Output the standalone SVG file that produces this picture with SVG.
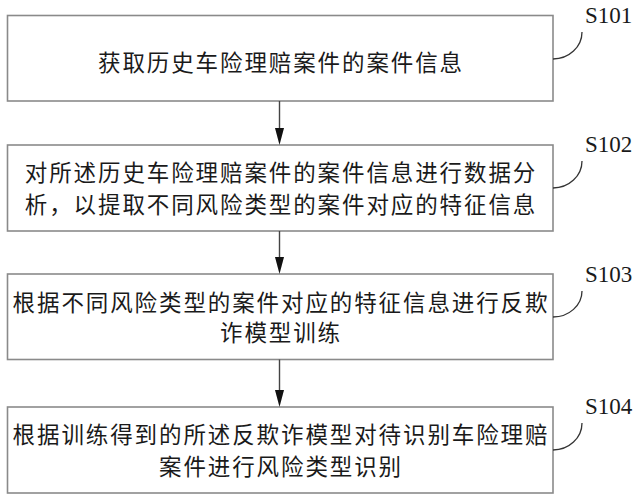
<svg xmlns="http://www.w3.org/2000/svg" width="641" height="500" viewBox="0 0 641 500">
<style>
.box{fill:#fff;stroke:#8a8a8a;stroke-width:1.6}
.t{font-family:"Noto Sans CJK SC","Noto Sans",sans-serif;font-size:22.5px;letter-spacing:1.9px;fill:#1a1a1a;text-anchor:middle}
.lbl{font-family:"Liberation Serif","Noto Sans CJK SC",serif;font-size:23px;fill:#1a1a1a}
.lead{fill:none;stroke:#333;stroke-width:1.3}
.conn line{stroke:#444;stroke-width:1.4}
.conn polygon{fill:#111}
</style>
<rect width="641" height="500" fill="#fff"/>
<g id="s101">
<rect class="box" x="7.5" y="15.5" width="545.5" height="85.5"/>
<text class="t" x="281" y="71">获取历史车险理赔案件的案件信息</text>
<text class="lbl" x="585" y="23">S101</text>
<path class="lead" d="M553,59 A29,27 0 0 0 582,32"/>
</g>
<g id="s102">
<rect class="box" x="7.5" y="145" width="545.5" height="86"/>
<text class="t" x="281" y="181">对所述历史车险理赔案件的案件信息进行数据分</text>
<text class="t" x="281" y="212.5">析，以提取不同风险类型的案件对应的特征信息</text>
<text class="lbl" x="585" y="152">S102</text>
<path class="lead" d="M553,188 A29,27 0 0 0 582,161"/>
</g>
<g id="s103">
<rect class="box" x="7.5" y="274" width="545.5" height="85.5"/>
<text class="t" x="281" y="311">根据不同风险类型的案件对应的特征信息进行反欺</text>
<text class="t" x="281" y="341">诈模型训练</text>
<text class="lbl" x="585" y="282">S103</text>
<path class="lead" d="M553,317 A29,26 0 0 0 582,291"/>
</g>
<g id="s104">
<rect class="box" x="7.5" y="407" width="545.5" height="86"/>
<text class="t" x="281" y="442.5">根据训练得到的所述反欺诈模型对待识别车险理赔</text>
<text class="t" x="281" y="474.5">案件进行风险类型识别</text>
<text class="lbl" x="585" y="414">S104</text>
<path class="lead" d="M553,450 A29,27 0 0 0 582,423"/>
</g>
<g class="conn" id="connectors">
<line x1="279.5" y1="101" x2="279.5" y2="129"/>
<polygon points="275,128 284,128 279.5,145"/>
<line x1="279.5" y1="231" x2="279.5" y2="258"/>
<polygon points="275,257 284,257 279.5,274"/>
<line x1="279.5" y1="359.5" x2="279.5" y2="391"/>
<polygon points="275,390 284,390 279.5,407"/>
</g>
</svg>
